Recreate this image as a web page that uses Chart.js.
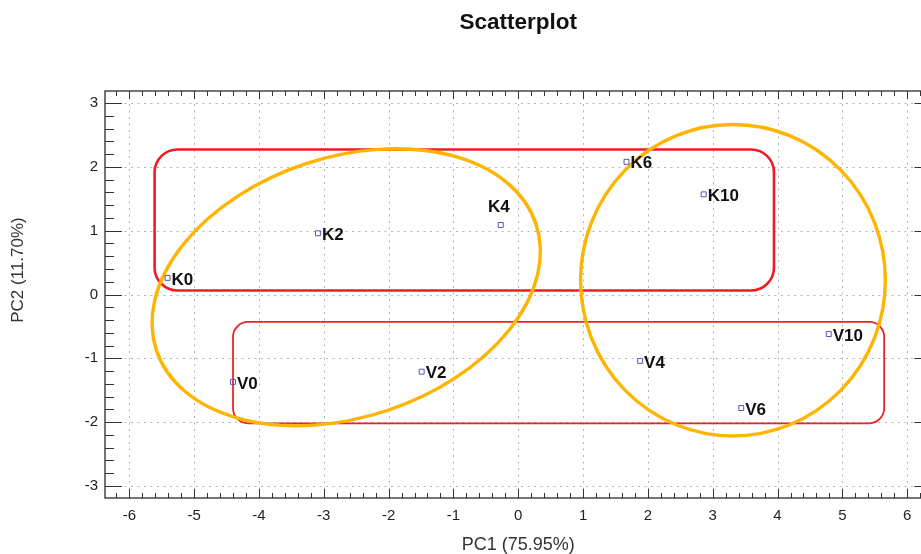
<!DOCTYPE html>
<html><head><meta charset="utf-8">
<script src="https://cdn.jsdelivr.net/npm/chart.js@4.4.0/dist/chart.umd.min.js"></script>
<style>html,body{margin:0;padding:0;background:#fff;overflow:hidden;}#wrap{width:921px;height:554px;overflow:hidden;}</style>
</head><body><div id="wrap"><canvas id="c" width="936" height="554"></canvas></div>
<script>
// ---- data ----
const sampleLabels = ['K0', 'K2', 'K4', 'K6', 'K10', 'V0', 'V2', 'V4', 'V6', 'V10'];
const pc1Values = [-5.41, -3.09, -0.27, 1.67, 2.86, -4.40, -1.49, 1.88, 3.44, 4.79];
const pc2Values = [0.26, 0.96, 1.09, 2.08, 1.57, -1.37, -1.21, -1.04, -1.78, -0.62];
const xTickValues = [-6, -5, -4, -3, -2, -1, 0, 1, 2, 3, 4, 5, 6];
const yTickValues = [-3, -2, -1, 0, 1, 2, 3];
const xTitle = 'PC1 (75.95%)';
const yTitle = 'PC2 (11.70%)';
const chartTitle = 'Scatterplot';

// ---- annotation shapes (in data units) ----
const groupBoxes = [
  {x1: -5.61, x2: 3.945, y1: 2.274, y2: 0.063, r: 23, w: 2.6, color: '#ee1c25'},
  {x1: -4.40, x2: 5.645, y1: -0.43, y2: -2.02, r: 15, w: 1.8, color: '#e8232b'}
];
const groupEllipses = [
  {cx: -2.654, cy: 0.114, a: 3.11, b: 2.02, angle: 18.4, w: 3.4, color: '#ffb400'},
  {cx: 3.312, cy: 0.224, a: 2.351, b: 2.441, angle: 0, w: 3.4, color: '#ffb400'}
];

const FONT = "'Liberation Sans', Arial, sans-serif";

const decorPlugin = {
  id: 'decor',
  beforeDatasetsDraw(chart) {
    const {ctx, chartArea: ca, scales: {x, y}} = chart;
    ctx.save();
    // dotted grid
    ctx.strokeStyle = '#b4b4b4';
    ctx.lineWidth = 1;
    ctx.setLineDash([2, 4.5]);
    xTickValues.forEach(v => {
      const px = Math.round(x.getPixelForValue(v)) + 0.5;
      ctx.beginPath(); ctx.moveTo(px, ca.top); ctx.lineTo(px, ca.bottom); ctx.stroke();
    });
    yTickValues.forEach(v => {
      const py = Math.round(y.getPixelForValue(v)) + 0.5;
      ctx.beginPath(); ctx.moveTo(ca.left, py); ctx.lineTo(ca.right, py); ctx.stroke();
    });
    ctx.setLineDash([]);
    // rounded boxes
    groupBoxes.forEach(b => {
      const l = x.getPixelForValue(b.x1), r = x.getPixelForValue(b.x2);
      const t = y.getPixelForValue(b.y1), bt = y.getPixelForValue(b.y2);
      ctx.beginPath();
      ctx.roundRect(l, t, r - l, bt - t, b.r);
      ctx.strokeStyle = b.color; ctx.lineWidth = b.w; ctx.stroke();
    });
    // ellipses
    groupEllipses.forEach(e => {
      const cx = x.getPixelForValue(e.cx), cy = y.getPixelForValue(e.cy);
      const sx = Math.abs(x.getPixelForValue(1) - x.getPixelForValue(0));
      const sy = Math.abs(y.getPixelForValue(1) - y.getPixelForValue(0));
      const s = (sx + sy) / 2;
      ctx.beginPath();
      ctx.ellipse(cx, cy, e.a * (e.angle ? s : sx), e.b * (e.angle ? s : sy), -e.angle * Math.PI / 180, 0, Math.PI * 2);
      ctx.strokeStyle = e.color; ctx.lineWidth = e.w; ctx.stroke();
    });
    // frame
    ctx.strokeStyle = '#2a2a2a';
    ctx.lineWidth = 1.3;
    ctx.strokeRect(ca.left, ca.top, ca.right - ca.left, ca.bottom - ca.top);
    // inward tick marks
    ctx.lineWidth = 1;
    ctx.strokeStyle = '#333';
    const step = 0.2;
    for (let k = Math.ceil(x.min / step - 1e-9); k <= Math.floor(x.max / step + 1e-9); k++) {
      const major = k % 5 === 0;
      const px = Math.round(x.getPixelForValue(k * step)) + 0.5;
      const lb = major ? 9 : 5, lt = major ? 8 : 5;
      ctx.beginPath();
      ctx.moveTo(px, ca.bottom); ctx.lineTo(px, ca.bottom - lb);
      ctx.moveTo(px, ca.top); ctx.lineTo(px, ca.top + lt);
      ctx.stroke();
    }
    for (let k = Math.ceil(y.min / step - 1e-9); k <= Math.floor(y.max / step + 1e-9); k++) {
      const major = k % 5 === 0;
      const py = Math.round(y.getPixelForValue(k * step)) + 0.5;
      const len = major ? 17 : 9;
      ctx.beginPath();
      ctx.moveTo(ca.left, py); ctx.lineTo(ca.left + len, py);
      ctx.moveTo(ca.right, py); ctx.lineTo(ca.right - len, py);
      ctx.stroke();
    }
    ctx.restore();
  },
  afterDatasetsDraw(chart) {
    const {ctx, scales: {x, y}} = chart;
    ctx.save();
    ctx.font = 'bold 17px ' + FONT;
    ctx.fillStyle = '#111';
    sampleLabels.forEach((lab, i) => {
      const px = x.getPixelForValue(pc1Values[i]);
      const py = y.getPixelForValue(pc2Values[i]);
      if (lab === 'K4') {
        ctx.textAlign = 'center'; ctx.textBaseline = 'middle';
        ctx.fillText(lab, px - 2, py - 18);
      } else {
        ctx.textAlign = 'left'; ctx.textBaseline = 'middle';
        ctx.fillText(lab, px + 4, py + 2);
      }
    });
    // y-axis title
    ctx.translate(18, 270);
    ctx.rotate(-Math.PI / 2);
    ctx.font = '17px ' + FONT;
    ctx.fillStyle = '#333';
    ctx.textAlign = 'center'; ctx.textBaseline = 'middle';
    ctx.fillText(yTitle, 0, 0);
    ctx.restore();
  }
};

new Chart(document.getElementById('c'), {
  type: 'scatter',
  data: {
    datasets: [{
      data: pc1Values.map((v, i) => ({x: v, y: pc2Values[i]})),
      pointStyle: 'rect',
      pointRadius: 3.5,
      pointHoverRadius: 3.5,
      borderWidth: 1,
      borderColor: '#5656b8',
      backgroundColor: 'rgba(255,255,255,0)',
      showLine: false
    }]
  },
  options: {
    responsive: false,
    animation: false,
    devicePixelRatio: 1,
    layout: {padding: {left: 0, right: 0, top: 0, bottom: 0}},
    plugins: {
      legend: {display: false},
      tooltip: {enabled: false},
      title: {
        display: true, text: chartTitle, fullSize: false,
        font: {family: FONT, size: 22.5, weight: 'bold', lineHeight: 1.2},
        color: '#111', padding: {top: 9, bottom: 55}
      }
    },
    scales: {
      x: {
        type: 'linear', min: -6.375, max: 6.375,
        afterBuildTicks: s => { s.ticks = xTickValues.map(v => ({value: v})); },
        afterFit: s => { s.height = 56; },
        grid: {display: false, drawTicks: false},
        border: {display: false},
        ticks: {font: {family: FONT, size: 15}, color: '#222', padding: 9, maxRotation: 0, autoSkip: false},
        title: {display: true, text: xTitle, font: {family: FONT, size: 18, lineHeight: 1}, color: '#333', padding: 0}
      },
      y: {
        type: 'linear', min: -3.19, max: 3.19,
        afterBuildTicks: s => { s.ticks = yTickValues.map(v => ({value: v})); },
        afterFit: s => { s.width = 105; },
        grid: {display: false, drawTicks: false},
        border: {display: false},
        ticks: {font: {family: FONT, size: 15}, color: '#222', padding: 7, autoSkip: false}
      }
    }
  },
  plugins: [decorPlugin]
});
</script></body></html>
